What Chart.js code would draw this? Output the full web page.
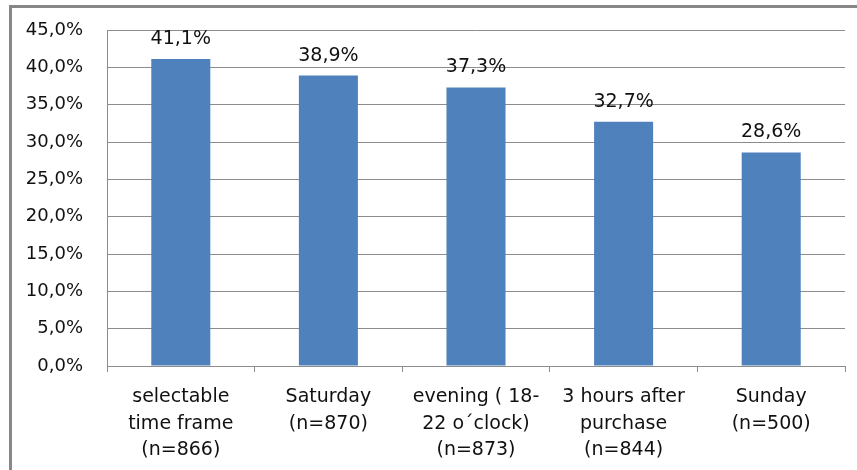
<!DOCTYPE html>
<html>
<head>
<meta charset="utf-8">
<script src="https://cdn.jsdelivr.net/npm/chart.js@4"></script>
<style>
  html, body { margin: 0; padding: 0; background: #fff; }
  #wrap { position: relative; width: 857px; height: 470px; }
</style>
</head>
<body>
<div id="wrap"><canvas id="barChart" width="857" height="470"></canvas></div>
<script>
/* ====== data ====== */
const categories = [
  ["selectable", "time frame", "(n=866)"],
  ["Saturday", "(n=870)"],
  ["evening ( 18-", "22 o\u00B4clock)", "(n=873)"],
  ["3 hours after", "purchase", "(n=844)"],
  ["Sunday", "(n=500)"],
];
const shares = [41.1, 38.9, 37.3, 32.7, 28.6];
const yMin = 0, yMax = 45, yStep = 5;

const fmt = (v, d) => v.toFixed(d).replace(".", ",") + "%";
const FONT = "'DejaVu Sans', sans-serif";
const GRID = "#8c8c8c";
const TEXT = "#111";

/* ====== frame + value labels ====== */
const framePlugin = {
  id: "frame",
  beforeDraw(chart) {
    const ctx = chart.ctx;
    ctx.save();
    ctx.fillStyle = "#fff";
    ctx.fillRect(0, 0, chart.width, chart.height);
    ctx.fillStyle = "#878787";
    ctx.fillRect(9, 5, chart.width - 9, 3);   // top edge
    ctx.fillRect(9, 5, 3, chart.height - 5);  // left edge
    ctx.restore();
  },
};

const valueLabels = {
  id: "valueLabels",
  afterDatasetsDraw(chart) {
    const ctx = chart.ctx;
    const meta = chart.getDatasetMeta(0);
    ctx.save();
    ctx.font = "19px " + FONT;
    ctx.fillStyle = TEXT;
    ctx.textAlign = "center";
    ctx.textBaseline = "alphabetic";
    meta.data.forEach((bar, i) => {
      ctx.fillText(fmt(shares[i], 1), bar.x, bar.y - 15);
    });
    ctx.restore();
  },
};

/* ====== chart ====== */
function createChart() {
  const ctx = document.getElementById("barChart").getContext("2d");
  return new Chart(ctx, {
    type: "bar",
    data: {
      labels: categories,
      datasets: [
        {
          data: shares,
          backgroundColor: "#4F81BD",
          borderWidth: 0,
          barPercentage: 0.4,
          categoryPercentage: 1,
        },
      ],
    },
    options: {
      responsive: false,
      animation: false,
      layout: { padding: { top: 30, right: 12, left: 0, bottom: 0 } },
      plugins: { legend: { display: false }, tooltip: { enabled: false } },
      scales: {
        x: {
          afterFit: (s) => { s.height = 104; },
          grid: {
            drawOnChartArea: false,
            color: GRID,
            tickLength: 6,
            tickColor: GRID,
          },
          border: { color: GRID, width: 1 },
          ticks: {
            color: TEXT,
            font: { family: FONT, size: 19, lineHeight: 1.4 },
            padding: 12,
            maxRotation: 0,
            autoSkip: false,
          },
        },
        y: {
          min: yMin,
          max: yMax,
          afterFit: (s) => {
            s.width = 107;
            s.paddingTop = 0;
            s.paddingBottom = 0;
          },
          grid: { color: GRID, drawTicks: false },
          border: { color: GRID, width: 1 },
          ticks: {
            stepSize: yStep,
            color: TEXT,
            padding: 24,
            font: { family: FONT, size: 18 },
            callback: (v) => fmt(v, 1),
          },
        },
      },
    },
    plugins: [framePlugin, valueLabels],
  });
}

document.addEventListener("DOMContentLoaded", createChart);
</script>
</body>
</html>
